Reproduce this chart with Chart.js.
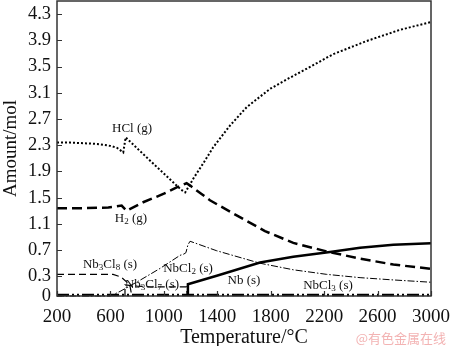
<!DOCTYPE html>
<html>
<head>
<meta charset="utf-8">
<script src="https://cdn.jsdelivr.net/npm/chart.js@4/dist/chart.umd.min.js"></script>
<style>
  html, body { margin:0; padding:0; background:#fff; }
  #wrap { width:450px; height:346px; position:relative; }
</style>
</head>
<body>
<div id="wrap"><canvas id="c" width="450" height="346"></canvas></div>
<script>
// axis ticks
const xTicks = [200, 600, 1000, 1400, 1800, 2200, 2600, 3000];
const yTicks = [0, 0.3, 0.7, 1.1, 1.5, 1.9, 2.3, 2.7, 3.1, 3.5, 3.9, 4.3];

// HCl (g)
const hclT   = [200, 300, 400, 500, 600, 650, 696, 714, 920, 1130, 1160, 1195, 1220, 1300, 1370, 1495, 1620, 1795, 1944, 2081, 2269, 2519, 2768, 3000];
const hclAmt = [2.34, 2.34, 2.33, 2.32, 2.29, 2.26, 2.19, 2.42, 2.02, 1.62, 1.58, 1.70, 1.79, 2.04, 2.27, 2.60, 2.88, 3.16, 3.33, 3.48, 3.69, 3.89, 4.06, 4.18];

// H2 (g)
const h2T   = [200, 400, 584, 684, 721, 845, 1000, 1100, 1170, 1200, 1345, 1545, 1757, 1969, 2219, 2469, 2718, 3000];
const h2Amt = [1.34, 1.34, 1.35, 1.38, 1.30, 1.43, 1.56, 1.66, 1.72, 1.68, 1.46, 1.23, 0.99, 0.81, 0.68, 0.57, 0.48, 0.415];

// Nb (s)
const nbT   = [1180, 1180, 1396, 1720, 1969, 2244, 2469, 2718, 3000];
const nbAmt = [0, 0.18, 0.31, 0.51, 0.60, 0.67, 0.735, 0.78, 0.805];

// NbCl2 (s)
const nbcl2T   = [200, 600, 672, 821, 971, 1121, 1150, 1165, 1180, 1196, 1396, 1720, 1969, 2219, 2469, 2718, 3000];
const nbcl2Amt = [0, 0, 0.07, 0.24, 0.42, 0.62, 0.64, 0.66, 0.78, 0.835, 0.69, 0.50, 0.40, 0.33, 0.28, 0.245, 0.21];

// Nb3Cl8 (s)
const nb3cl8T   = [200, 620, 680, 745, 760];
const nb3cl8Amt = [0.33, 0.33, 0.29, 0.17, 0];

// Nb3Cl7 (s)
const nb3cl7T   = [709, 709, 800, 900, 1000, 1100, 1170, 1175];
const nb3cl7Amt = [0, 0.17, 0.15, 0.14, 0.14, 0.14, 0.14, 0];

// NbCl3 (s)
const nbcl3T   = [200, 3000];
const nbcl3Amt = [0.015, 0.015];

// curve labels ("_" marks a subscript digit)
const labelText = ['HCl (g)', 'H_2 (g)', 'Nb_3Cl_8 (s)', 'NbCl_2 (s)', 'Nb_3Cl_7 (s)', 'Nb (s)', 'NbCl_3 (s)'];
const labelT    = [762, 754, 597, 1181, 911, 1600, 2229];
const labelAmt  = [2.55, 1.18, 0.48, 0.42, 0.18, 0.24, 0.16];

const SERIF = '"Liberation Serif", "Times New Roman", serif';

const pts = (xs, ys) => xs.map((x, i) => ({ x, y: ys[i] }));

function series(xs, ys, width, dash) {
  return {
    data: pts(xs, ys), borderColor: '#000', borderWidth: width, borderDash: dash,
    pointRadius: 0, tension: 0, fill: false, borderCapStyle: 'butt', clip: false
  };
}

// no overhang room for end labels: plot box is fixed by layout padding
function noPad(s) {
  s.paddingTop = 0; s.paddingBottom = 0; s.paddingLeft = 0; s.paddingRight = 0;
}

// frame, inward ticks, curve labels and the corner mark
const decor = {
  id: 'decor',
  afterDatasetsDraw(chart) {
    const { ctx, chartArea: a, scales: { x, y } } = chart;
    ctx.save();
    ctx.strokeStyle = '#333';
    ctx.lineWidth = 1.5;
    ctx.strokeRect(a.left, a.top, a.right - a.left, a.bottom - a.top);
    ctx.lineWidth = 1.2;
    ctx.beginPath();
    xTicks.forEach(v => {
      const px = Math.round(x.getPixelForValue(v)) + 0.5;
      ctx.moveTo(px, a.bottom); ctx.lineTo(px, a.bottom - 5);
    });
    yTicks.forEach(v => {
      const py = Math.round(y.getPixelForValue(v)) + 0.5;
      ctx.moveTo(a.left, py); ctx.lineTo(a.left + 5, py);
    });
    ctx.stroke();

    ctx.fillStyle = '#111';
    ctx.textBaseline = 'middle';
    labelText.forEach((txt, i) => {
      const parts = [];
      for (let k = 0; k < txt.length; k++) {
        if (txt[k] === '_') { parts.push({ s: txt[k + 1], sub: true }); k++; }
        else parts.push({ s: txt[k], sub: false });
      }
      const fontOf = p => (p.sub ? '9px ' : '13px ') + SERIF;
      let w = 0;
      parts.forEach(p => { ctx.font = fontOf(p); w += ctx.measureText(p.s).width; });
      let cx = x.getPixelForValue(labelT[i]) - w / 2;
      const cy = y.getPixelForValue(labelAmt[i]);
      parts.forEach(p => {
        ctx.font = fontOf(p);
        ctx.textAlign = 'left';
        ctx.fillText(p.s, cx, cy + (p.sub ? 3 : 0));
        cx += ctx.measureText(p.s).width;
      });
    });

    ctx.font = '13px "Noto Sans CJK SC", sans-serif';
    ctx.fillStyle = '#f3b3b3';
    ctx.textAlign = 'right';
    ctx.fillText('@有色金属在线', 446, 338);
    ctx.restore();
  }
};

new Chart(document.getElementById('c'), {
  type: 'line',
  data: {
    datasets: [
      series(nbcl3T, nbcl3Amt, 2.5, [12, 3, 2, 3, 2, 3]),
      series(nb3cl8T, nb3cl8Amt, 1.2, [7, 4]),
      series(nb3cl7T, nb3cl7Amt, 1.2, [7, 4]),
      series(nbcl2T, nbcl2Amt, 1, [7, 2, 1.5, 2]),
      series(nbT, nbAmt, 2.5, []),
      series(h2T, h2Amt, 2.5, [10, 5]),
      series(hclT, hclAmt, 2, [2, 2])
    ]
  },
  plugins: [decor],
  options: {
    responsive: false,
    animation: false,
    layout: { padding: { top: 1, right: 19, left: 0, bottom: 0 } },
    plugins: { legend: { display: false }, tooltip: { enabled: false } },
    scales: {
      x: {
        type: 'linear', min: 200, max: 3000,
        afterBuildTicks: s => { s.ticks = xTicks.map(v => ({ value: v })); },
        afterFit: s => { s.height = 50; noPad(s); },
        grid: { display: false, drawTicks: false },
        border: { display: false },
        ticks: { color: '#111', padding: 10, maxRotation: 0, font: { family: SERIF, size: 19 }, callback: v => String(v) },
        title: { display: true, text: 'Temperature/°C', color: '#111', padding: { top: 0, bottom: -4 }, font: { family: SERIF, size: 20 } }
      },
      y: {
        type: 'linear', min: 0, max: 4.5,
        afterBuildTicks: s => { s.ticks = yTicks.map(v => ({ value: v })); },
        afterFit: s => { s.width = 57; noPad(s); },
        grid: { display: false, drawTicks: false },
        border: { display: false },
        ticks: { color: '#111', padding: 6, font: { family: SERIF, size: 18.5 }, callback: v => String(v) },
        title: { display: true, text: 'Amount/mol', color: '#111', padding: 0, font: { family: SERIF, size: 19 } }
      }
    }
  }
});
</script>
</body>
</html>
